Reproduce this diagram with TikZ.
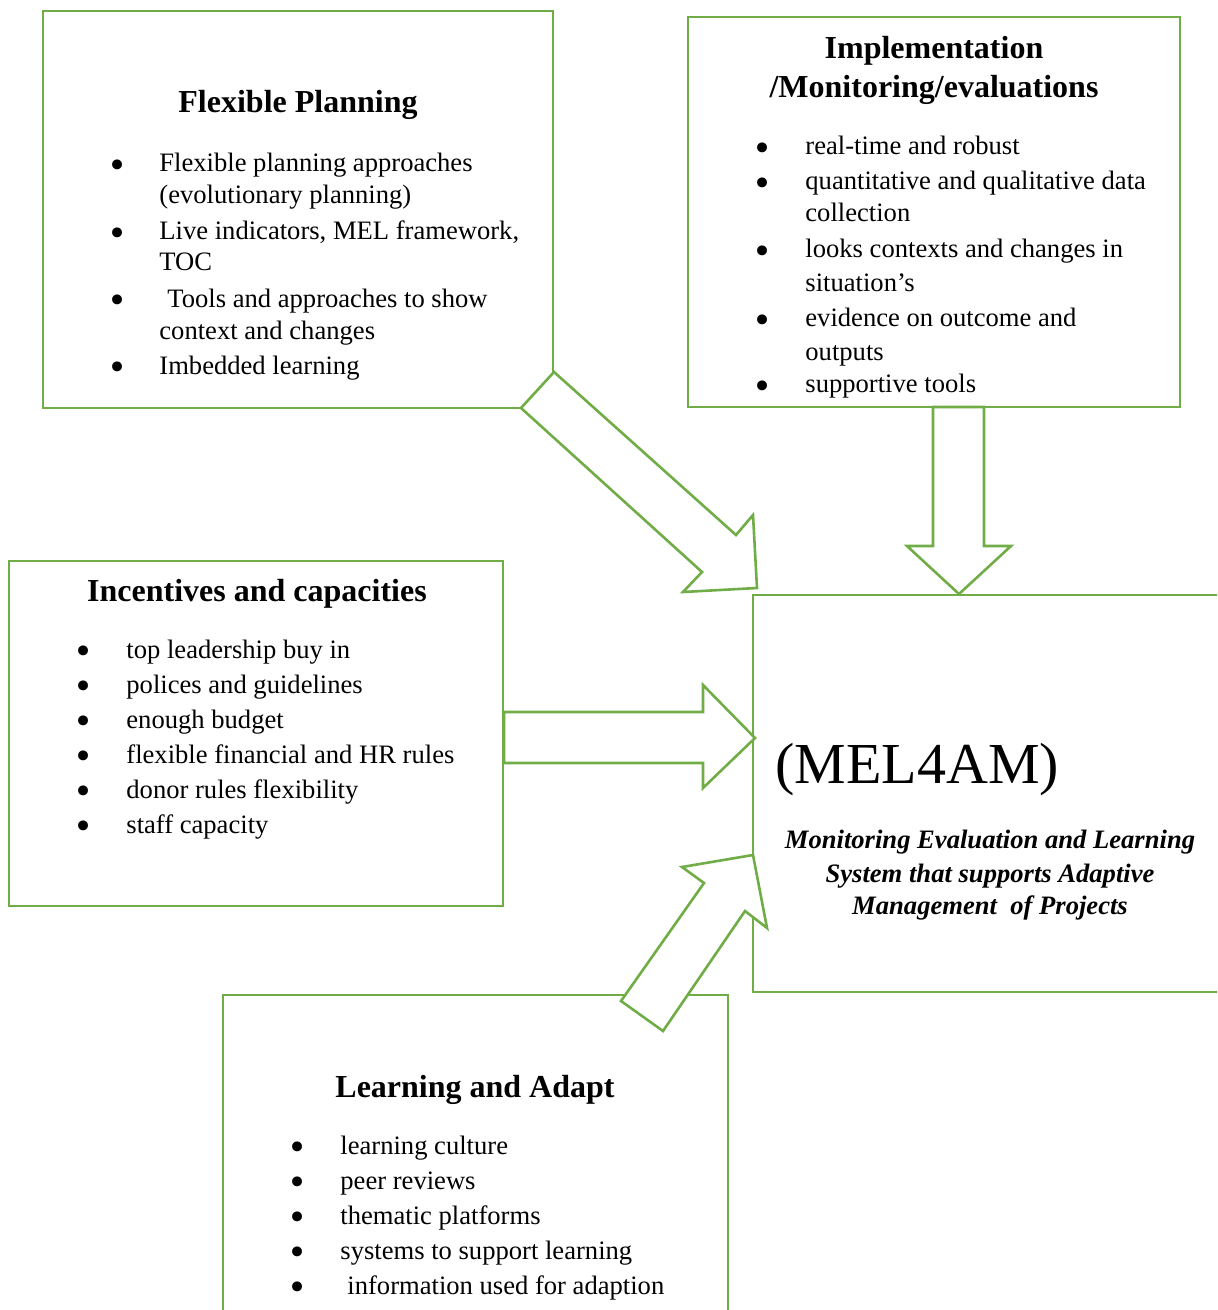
\documentclass[tikz,border=0pt]{standalone}
\usepackage{fontspec}
\setmainfont{Liberation Serif}
\newfontfamily\dotfont{DejaVu Sans}
\definecolor{framegreen}{RGB}{112,173,71}
\begin{document}
\begin{tikzpicture}[x=0.5pt,y=-0.5pt,
	frame/.style={draw=framegreen,line width=1.3pt},
	blockarrow/.style={draw=framegreen,line width=1.3pt,fill=white,line join=miter},
	boxtitle/.style={font=\fontsize{16}{20}\selectfont\bfseries,anchor=base,inner sep=0pt},
	item/.style={font=\fontsize{13.3}{17}\selectfont,anchor=base west,inner sep=0pt},
	dot/.style={font=\dotfont\fontsize{17}{18}\selectfont,anchor=center,inner sep=0pt,yshift=1.8pt},
	melline/.style={font=\fontsize{13.3}{17}\selectfont\bfseries\itshape,anchor=base,inner sep=0pt}]
	\useasboundingbox (0,0) rectangle (1217,1310);
	\clip (0,0) rectangle (1217,1310);
	% the five boxes
	\draw[frame] (43,11) rectangle (553,408);
	\draw[frame] (688,17) rectangle (1180,407);
	\draw[frame] (9,561) rectangle (503,906);
	\draw[frame] (753,595) rectangle (1240,992);
	\draw[frame] (223,995) rectangle (728,1340);
	% Flexible Planning
	\node[boxtitle] (plan) at (298,113) {Flexible Planning};
	\node[dot] (plan-b1) at (118,172) {•};
	\node[item] (plan-1) at (159,172) {Flexible planning approaches};
	\node[item] (plan-1a) at (159,204) {(evolutionary planning)};
	\node[dot] (plan-b2) at (118,240) {•};
	\node[item] (plan-2) at (159,240) {Live indicators, MEL framework,};
	\node[item] (plan-2a) at (159,271) {TOC};
	\node[dot] (plan-b3) at (118,307) {•};
	\node[item] (plan-3) at (167,307) {Tools and approaches to show};
	\node[item] (plan-3a) at (159,339) {context and changes};
	\node[dot] (plan-b4) at (118,374) {•};
	\node[item] (plan-4) at (159,374) {Imbedded learning};
	% Implementation /Monitoring/evaluations
	\node[boxtitle] (impl) at (934,59) {Implementation};
	\node[boxtitle] (impl-a) at (934,98) {/Monitoring/evaluations};
	\begin{scope}
		\clip (688,17) rectangle (1180,397);
		\node[dot] (impl-b1) at (763,155) {•};
		\node[item] (impl-1) at (805,155) {real-time and robust};
		\node[dot] (impl-b2) at (763,190) {•};
		\node[item] (impl-2) at (805,190) {quantitative and qualitative data};
		\node[item] (impl-2a) at (805,222) {collection};
		\node[dot] (impl-b3) at (763,258) {•};
		\node[item] (impl-3) at (805,258) {looks contexts and changes in};
		\node[item] (impl-3a) at (805,292) {situation’s};
		\node[dot] (impl-b4) at (763,327) {•};
		\node[item] (impl-4) at (805,327) {evidence on outcome and};
		\node[item] (impl-4a) at (805,360) {outputs};
		\node[dot] (impl-b5) at (763,393) {•};
		\node[item] (impl-5) at (805,393) {supportive tools};
	\end{scope}
	% Incentives and capacities
	\node[boxtitle] (incent) at (257,601) {Incentives and capacities};
	\node[dot] (incent-b1) at (84,658) {•};
	\node[item] (incent-1) at (126,658) {top leadership buy in};
	\node[dot] (incent-b2) at (84,693) {•};
	\node[item] (incent-2) at (126,693) {polices and guidelines};
	\node[dot] (incent-b3) at (84,728) {•};
	\node[item] (incent-3) at (126,728) {enough budget};
	\node[dot] (incent-b4) at (84,763) {•};
	\node[item] (incent-4) at (126,763) {flexible financial and HR rules};
	\node[dot] (incent-b5) at (84,798) {•};
	\node[item] (incent-5) at (126,798) {donor rules flexibility};
	\node[dot] (incent-b6) at (84,833) {•};
	\node[item] (incent-6) at (126,833) {staff capacity};
	% MEL4AM
	\node[font=\fontsize{29}{34}\selectfont,anchor=base west,inner sep=0pt] (mel) at (775,783) {(MEL4AM)};
	\node[melline] (mel-1) at (990,848) {Monitoring Evaluation and Learning};
	\node[melline] (mel-2) at (990,882) {System that supports Adaptive};
	\node[melline] (mel-3) at (990,914) {Management~ of Projects};
	% Learning and Adapt
	\node[boxtitle] (learn) at (475,1097) {Learning and Adapt};
	\node[dot] (learn-b1) at (298,1154) {•};
	\node[item] (learn-1) at (340,1154) {learning culture};
	\node[dot] (learn-b2) at (298,1189) {•};
	\node[item] (learn-2) at (340,1189) {peer reviews};
	\node[dot] (learn-b3) at (298,1224) {•};
	\node[item] (learn-3) at (340,1224) {thematic platforms};
	\node[dot] (learn-b4) at (298,1259) {•};
	\node[item] (learn-4) at (340,1259) {systems to support learning};
	\node[dot] (learn-b5) at (298,1294) {•};
	\node[item] (learn-5) at (347,1294) {information used for adaption};
	% block arrows into the MEL4AM box
	\draw[blockarrow] (554,372) -- (736,535) -- (753,515) -- (757,588) -- (683,592) -- (702,572) -- (521,408) -- cycle;
	\draw[blockarrow] (933,407) -- (933,546) -- (907,546) -- (959,594) -- (1011,546) -- (984,546) -- (984,407) -- cycle;
	\draw[blockarrow] (504,712) -- (703,712) -- (703,685) -- (755,738) -- (703,788) -- (703,763) -- (504,763) -- cycle;
	\draw[blockarrow] (621,1001) -- (704,883) -- (682,867) -- (753,855) -- (767,928) -- (745,911) -- (663,1031) -- cycle;
\end{tikzpicture}
\end{document}
